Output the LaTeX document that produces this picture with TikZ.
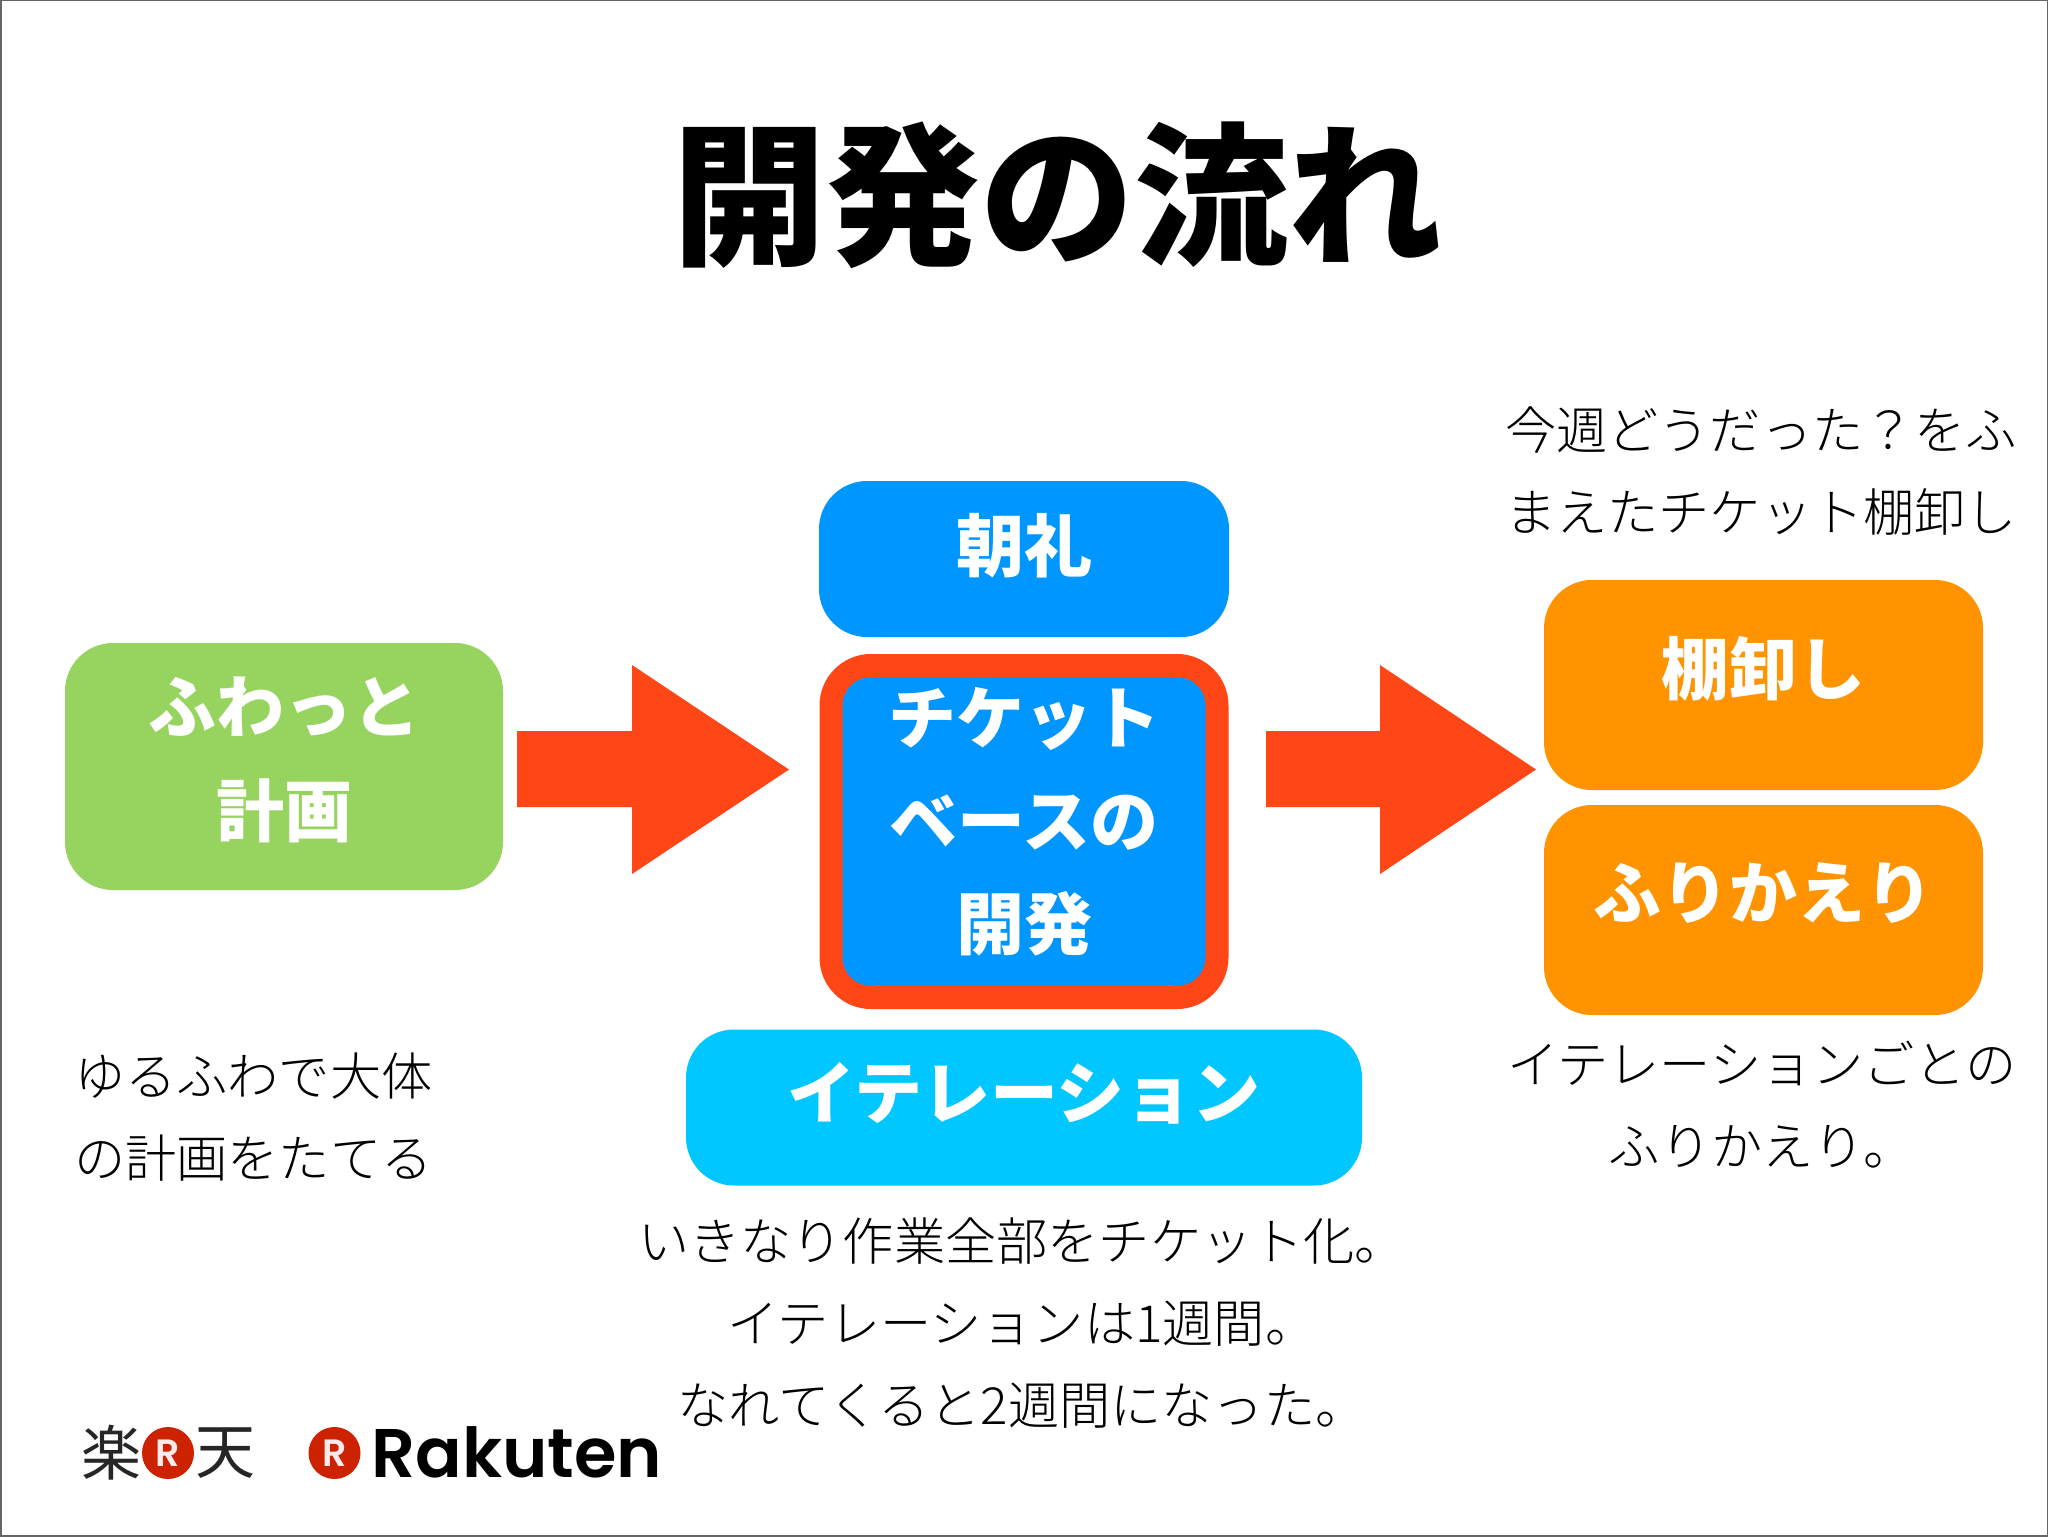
\documentclass[tikz,border=0pt]{standalone}
\usepackage{fontspec}
\newfontfamily\jpreg{Noto Sans CJK JP Light}
\newfontfamily\jplogo{Noto Sans CJK JP}
\newfontfamily\jpblack{Noto Sans CJK JP Black}
\newfontfamily\rakfont{Poppins SemiBold}
\setsansfont{Poppins}
\newcommand{\dn}[1]{\rule[-#1pt]{0pt}{0pt}}
\definecolor{fgreen}{HTML}{96D35F}
\definecolor{fblue}{HTML}{0096FF}
\definecolor{fcyan}{HTML}{00C7FF}
\definecolor{forange}{HTML}{FF9300}
\definecolor{fred}{HTML}{FF4616}
\definecolor{rakred}{HTML}{CC2200}
\tikzset{
  boxnode/.style={rectangle,rounded corners=24pt,inner sep=0pt,align=center,text=white,
    font={\jpblack\fontsize{34}{52}\selectfont}},
  bodytext/.style={inner sep=0pt,align=center,text=black,
    font={\jpreg\fontsize{25.6}{41}\selectfont}},
  blockarrow/.style={fill=fred,draw=none},
  logoball/.style={circle,fill=rakred,inner sep=0pt,minimum size=26pt,text=white!92!red,
    font={\rakfont\fontsize{19}{20}\selectfont}},
  logokanji/.style={inner sep=0pt,text=black!85,font={\jplogo\fontsize{30}{31}\selectfont}}
}
\begin{document}
\begin{tikzpicture}[x=0.5pt,y=-0.5pt]
\useasboundingbox (0,0) rectangle (2048,1536);
\fill[white] (0,0) rectangle (2048,1536);
\draw[gray!80!black,line width=1pt] (0.5,0.5) rectangle (2047.5,1535.5);

\node[inner sep=0pt,font={\jpblack\fontsize{77}{80}\selectfont}] (title) at (1057,195) {開発の流れ};

\node[boxnode,fill=fgreen,minimum width=219pt,minimum height=123.5pt] (plan) at (284,766.5) {ふわっと\\計画\dn{9.5}};
\node[boxnode,fill=fblue,minimum width=205pt,minimum height=78pt] (morning) at (1024,559) {朝礼\dn{17}};
\node[boxnode,draw=fred,line width=11.5pt,fill=fblue,rounded corners=20pt,minimum width=193pt,minimum height=166pt,
  font={\jpblack\fontsize{34}{51.5}\selectfont}] (dev) at (1024,831.5) {チケット\\ベースの\\開発\dn{13}};
\node[boxnode,fill=fcyan,minimum width=338pt,minimum height=78pt] (iter) at (1024,1107.5) {イテレーション\dn{17}};
\node[boxnode,fill=forange,minimum width=219.5pt,minimum height=105pt] (tana) at (1763.5,685) {棚卸し\dn{19.5}};
\node[boxnode,fill=forange,minimum width=219.5pt,minimum height=105pt] (furi) at (1763.5,910) {ふりかえり\dn{19.5}};

\fill[blockarrow] (517,731) -- (632,731) -- (632,665) -- (789,769.5) -- (632,874) -- (632,807) -- (517,807) -- cycle;
\fill[blockarrow] (1266,731) -- (1380,731) -- (1380,665) -- (1536,769.5) -- (1380,874) -- (1380,807) -- (1266,807) -- cycle;

\node[bodytext] (plannote) at (252,1117) {\parbox{178pt}{\raggedright ゆるふわで大体\\の計画をたてる}};
\node[bodytext] (devnote) at (1022,1323) {いきなり作業全部をチケット化。\\イテレーションは1週間。\\なれてくると2週間になった。};
\node[bodytext] (topnote) at (1761,471.5) {今週どうだった？をふ\\まえたチケット棚卸し};
\node[bodytext] (retronote) at (1762,1105) {イテレーションごとの\\ふりかえり。};

\node[logokanji] (raku) at (111,1453) {楽};
\node[logoball] (ballone) at (168,1453) {R};
\node[logokanji] (ten) at (225,1453) {天};
\node[logoball] (balltwo) at (334.5,1453) {R};
\node[inner sep=0pt,anchor=base west,font={\rakfont\fontsize{34.4}{35}\selectfont}] (rakuten) at (371,1477) {Rakuten};
\end{tikzpicture}
\end{document}
